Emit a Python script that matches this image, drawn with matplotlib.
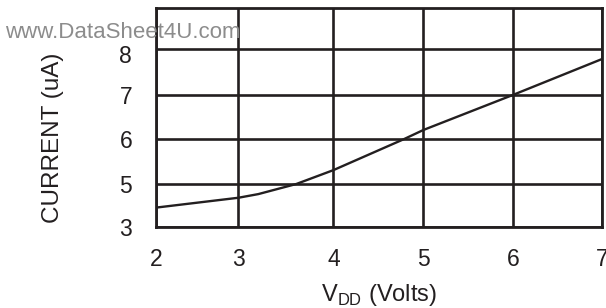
import numpy as np
import matplotlib
matplotlib.use("Agg")
import matplotlib.pyplot as plt
import matplotlib.transforms as mtransforms

plt.rcParams['font.family'] = ['Liberation Sans', 'DejaVu Sans']
plt.rcParams['mathtext.fontset'] = 'custom'
plt.rcParams['mathtext.rm'] = 'Liberation Sans'

# data
vdd = [2.0, 3.0, 3.21, 3.61, 4.0, 4.78, 5.0, 6.0, 7.0]
current = [3.90, 4.36, 4.53, 5.0, 5.31, 6.0, 6.21, 7.0, 7.78]

x_ticks = [2, 3, 4, 5, 6, 7]
y_ticks = [3, 5, 6, 7, 8]

# the printed grid is not evenly scaled: map values to grid positions
x_vals = [2, 3, 4, 5, 6, 7]
x_pos = [0, 82.6, 177.6, 267.6, 357, 446]
y_vals = [3, 5, 6, 7, 8, 9]
y_pos = [0, 43, 87.7, 132, 178, 219]


def fwd_x(v):
    return np.interp(v, x_vals, x_pos)

def inv_x(p):
    return np.interp(p, x_pos, x_vals)

def fwd_y(v):
    return np.interp(v, y_vals, y_pos)

def inv_y(p):
    return np.interp(p, y_pos, y_vals)


ink = '#231f20'

fig = plt.figure(figsize=(6.06, 3.08), dpi=100)
ax = fig.add_axes([0.257, 0.263, 0.736, 0.711])

ax.set_xscale('function', functions=(fwd_x, inv_x))
ax.set_yscale('function', functions=(fwd_y, inv_y))
ax.set_xlim(2, 7)
ax.set_ylim(3, 9)

ax.set_xticks(x_ticks)
ax.set_xticklabels([str(t) for t in x_ticks])
ax.set_yticks(y_ticks)
ax.set_yticklabels([str(t) for t in y_ticks])
ax.minorticks_off()
ax.tick_params(length=0, labelsize=16.5, colors=ink)
ax.tick_params(axis='x', pad=15)
ax.tick_params(axis='y', pad=17)

# the "8" sits a little below its grid line in the original
lbl8 = ax.get_yticklabels()[-1]
lbl8.set_transform(lbl8.get_transform() +
                   mtransforms.ScaledTranslation(0, -0.05, fig.dpi_scale_trans))

ax.grid(True, color=ink, linewidth=1.9)
ax.set_axisbelow(True)
for s in ax.spines.values():
    s.set_color(ink)
    s.set_linewidth(2.0)

ax.plot(vdd, current, color=ink, linewidth=1.7)

ax.set_xlabel(r'V$_{\mathrm{DD}}$ (Volts)', fontsize=17, color=ink)
ax.set_ylabel('CURRENT (uA)', fontsize=17.5, color=ink)
ax.xaxis.set_label_coords(0.5, -0.25)
ax.yaxis.set_label_coords(-0.205, 0.406)

fig.text(0.008, 0.893, 'www.DataSheet4U.com', fontsize=16, color='#8c8c8c',
         va='center', ha='left')

fig.savefig('out.png', dpi=100)
